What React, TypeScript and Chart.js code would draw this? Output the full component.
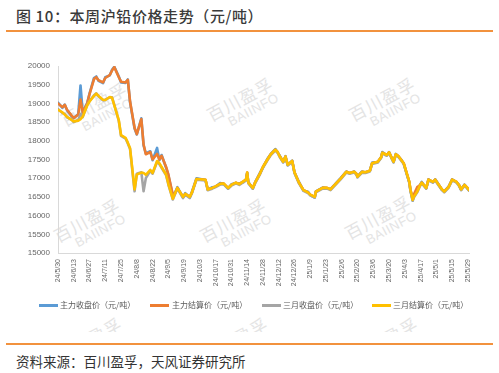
import React, { useEffect, useRef } from "react";
import { Chart, registerables } from "chart.js";

Chart.register(...registerables);

// ---- data ----
const dates = [
  "24/5/30", "24/6/3", "24/6/5", "24/6/7", "24/6/11", "24/6/13", "24/6/17", "24/6/19", "24/6/21", "24/6/25",
  "24/6/27", "24/7/1", "24/7/3", "24/7/5", "24/7/9", "24/7/11", "24/7/15", "24/7/17", "24/7/19", "24/7/23",
  "24/7/25", "24/7/29", "24/7/31", "24/8/2", "24/8/6", "24/8/8", "24/8/12", "24/8/14", "24/8/16", "24/8/20",
  "24/8/22", "24/8/26", "24/8/28", "24/8/30", "24/9/3", "24/9/5", "24/9/9", "24/9/11", "24/9/13", "24/9/18",
  "24/9/20", "24/9/24", "24/9/26", "24/9/30", "24/10/8", "24/10/10", "24/10/14", "24/10/17", "24/10/21", "24/10/24",
  "24/10/28", "24/10/31", "24/11/4", "24/11/7", "24/11/11", "24/11/13", "24/11/14", "24/11/15", "24/11/19", "24/11/21",
  "24/11/25", "24/11/28", "24/12/2", "24/12/5", "24/12/9", "24/12/11", "24/12/13", "24/12/16", "24/12/18", "24/12/20",
  "24/12/24", "24/12/26", "24/12/30", "25/1/3", "25/1/7", "25/1/9", "25/1/13", "25/1/14", "25/1/20", "25/1/24",
  "25/1/27", "25/2/5", "25/2/10", "25/2/13", "25/2/17", "25/2/19", "25/2/20", "25/2/24", "25/2/27", "25/3/3",
  "25/3/5", "25/3/10", "25/3/13", "25/3/14", "25/3/18", "25/3/20", "25/3/24", "25/3/26", "25/3/28", "25/3/31",
  "25/4/2", "25/4/7", "25/4/8", "25/4/10", "25/4/11", "25/4/14", "25/4/16", "25/4/18", "25/4/22", "25/4/24",
  "25/4/28", "25/4/30", "25/5/6", "25/5/8", "25/5/12", "25/5/15", "25/5/19", "25/5/21", "25/5/23", "25/5/26",
  "25/5/28", "25/5/30",
];

const mainClose = [
  19020, 18880, 18970, 18820, 18660, 18600, 18720, 19480, 18740, 19020,
  19260, 19680, 19720, 19600, 19540, 19700, 19750, 19900, 19980, 19720,
  19560, 19550, 19640, 19030, 18330, 18170, 18600, 17880, 17660, 17720,
  17480, 17810, 17480, 17620, 17280, 17080, 16530, 16620, 16760, 16490,
  16600, 16480, 16640, 17000, 16950, 16690, 16760, 16770, 16870, 16850,
  16720, 16840, 16870, 16860, 16900, 16980, 17140, 16900, 16720, 16890,
  17120, 17290, 17520, 17650, 17780, 17690, 17600, 17430, 17590, 17350,
  17470, 17150, 16900, 16670, 16640, 16550, 16480, 16650, 16750, 16730,
  16710, 17000, 17180, 17130, 17180, 17110, 17050, 17180, 17150, 17210,
  17420, 17430, 17570, 17700, 17610, 17700, 17430, 17650, 17590, 17490,
  17390, 16880, 16660, 16400, 16520, 16660, 16790, 16900, 16730, 16970,
  16890, 16970, 16690, 16650, 16780, 16970, 16890, 16830, 16690, 16830,
  16750, 16680,
];

const mainSettle = [
  19000, 18900, 18960, 18830, 18680, 18610, 18700, 19100, 18760, 19000,
  19250, 19650, 19700, 19620, 19560, 19680, 19760, 19880, 19970, 19700,
  19580, 19560, 19630, 19050, 18350, 18180, 18580, 17900, 17640, 17700,
  17500, 17650, 17500, 17600, 17300, 17100, 16550, 16600, 16740, 16500,
  16580, 16500, 16620, 16980, 16960, 16700, 16740, 16780, 16850, 16860,
  16740, 16820, 16880, 16840, 16920, 16960, 17150, 16880, 16740, 16880,
  17100, 17300, 17500, 17640, 17760, 17700, 17580, 17440, 17580, 17360,
  17460, 17160, 16880, 16680, 16620, 16560, 16500, 16640, 16740, 16740,
  16700, 16990, 17170, 17140, 17170, 17120, 17040, 17170, 17160, 17200,
  17400, 17440, 17560, 17680, 17620, 17690, 17440, 17640, 17600, 17480,
  17400, 16900, 16690, 16460, 16560, 16760, 16800, 16880, 16740, 16960,
  16900, 16960, 16700, 16640, 16770, 16960, 16900, 16820, 16700, 16820,
  16760, 16690,
];

const threeMonthClose = [
  18850, 18740, 18720, 18630, 18570, 18500, 18560, 18720, 18640, 18960,
  19060, 19220, 19270, 19190, 19080, 19100, 19160, 19160, 18960, 18530,
  18130, 18060, 17930, 17780, 16650, 17120, 17160, 16650, 17000, 17200,
  17120, 17440, 17380, 17280, 17080, 16830, 16430, 16580, 16720, 16470,
  16560, 16470, 16600, 16960, 16940, 16680, 16720, 16760, 16830, 16840,
  16720, 16800, 16860, 16820, 16900, 16940, 17120, 16860, 16720, 16860,
  17080, 17280, 17480, 17620, 17740, 17680, 17560, 17420, 17560, 17340,
  17440, 17140, 16860, 16660, 16600, 16540, 16480, 16620, 16720, 16720,
  16680, 16970, 17150, 17120, 17150, 17100, 17020, 17150, 17140, 17180,
  17380, 17420, 17540, 17660, 17600, 17670, 17420, 17620, 17580, 17460,
  17380, 16880, 16670, 16400, 16480, 16620, 16760, 16860, 16720, 16940,
  16880, 16940, 16680, 16620, 16750, 16940, 16880, 16800, 16680, 16800,
  16740, 16670,
];

const threeMonthSettle = [
  18830, 18760, 18700, 18640, 18560, 18520, 18540, 18580, 18650, 18950,
  19050, 19200, 19260, 19200, 19100, 19090, 19170, 19150, 18950, 18550,
  18150, 18080, 17950, 17800, 16700, 17100, 17150, 17140, 17090, 17220,
  17140, 17460, 17400, 17300, 17100, 16850, 16450, 16600, 16740, 16500,
  16580, 16500, 16620, 16980, 16960, 16700, 16740, 16780, 16850, 16860,
  16740, 16820, 16880, 16840, 16920, 16960, 17150, 16880, 16740, 16880,
  17100, 17300, 17500, 17640, 17760, 17700, 17580, 17440, 17580, 17360,
  17460, 17160, 16880, 16680, 16620, 16560, 16500, 16640, 16740, 16740,
  16700, 16990, 17170, 17140, 17170, 17120, 17040, 17170, 17160, 17200,
  17400, 17440, 17560, 17680, 17620, 17690, 17440, 17640, 17600, 17480,
  17400, 16900, 16690, 16420, 16500, 16640, 16780, 16880, 16740, 16960,
  16900, 16960, 16700, 16640, 16770, 16960, 16900, 16820, 16700, 16820,
  16760, 16690,
];

const xTickLabels = [
  "24/5/30", "24/6/13", "24/6/27", "24/7/11", "24/7/25", "24/8/8", "24/8/22", "24/9/5", "24/9/19",
  "24/10/3", "24/10/17", "24/10/31", "24/11/14", "24/11/28", "24/12/12", "24/12/26", "25/1/9",
  "25/1/23", "25/2/6", "25/2/20", "25/3/6", "25/3/20", "25/4/3", "25/4/17", "25/5/1", "25/5/15", "25/5/29",
];

const seriesNames = ["主力收盘价（元/吨）", "主力结算价（元/吨）", "三月收盘价（元/吨）", "三月结算价（元/吨）"];
const seriesColors = ["#5B9BD5", "#ED7D31", "#A5A5A5", "#FFC000"];
const yMin = 15000;
const yMax = 20000;
const yStep = 500;
const axisStart = "24/5/30";
const axisEnd = "25/5/30";

const titleText = "图 10：本周沪铅价格走势（元/吨）";
const sourceText = "资料来源：百川盈孚，天风证券研究所";
const watermarkCn = "百川盈孚";
const watermarkEn = "BAIINFO";

// ---- helpers ----
function toUTC(s: string) {
  const [y, m, d] = s.split("/").map(Number);
  return Date.UTC(2000 + y, m - 1, d);
}
function dayOf(s: string) {
  return Math.round((toUTC(s) - toUTC(axisStart)) / 86400000);
}

const tickLabelByDay = new Map<number, string>(xTickLabels.map((l) => [dayOf(l), l]));

function Watermark({ cx, cy }: { cx: number; cy: number }) {
  return (
    <div
      style={{
        position: "absolute",
        left: cx,
        top: cy,
        transform: "translate(-50%, -50%) rotate(-28deg)",
        color: "#E4E4E4",
        textAlign: "center",
        lineHeight: 1.05,
        whiteSpace: "nowrap",
        pointerEvents: "none",
      }}
    >
      <div style={{ fontSize: 17, fontFamily: "'Noto Sans CJK SC', sans-serif", letterSpacing: 1 }}>{watermarkCn}</div>
      <div style={{ fontSize: 13, fontFamily: "'Liberation Sans', Arial, sans-serif", marginLeft: 14, letterSpacing: 0.5 }}>
        {watermarkEn}
      </div>
    </div>
  );
}

export default function App() {
  const ref = useRef<HTMLCanvasElement | null>(null);

  useEffect(() => {
    if (!ref.current) return;
    const series = [mainClose, mainSettle, threeMonthClose, threeMonthSettle];
    const drawOrder = [4, 3, 2, 1];
    const chart = new Chart(ref.current, {
      type: "line",
      data: {
        datasets: series.map((vals, i) => ({
          label: seriesNames[i],
          data: vals.map((v, j) => ({ x: dayOf(dates[j]), y: v })),
          borderColor: seriesColors[i],
          backgroundColor: seriesColors[i],
          borderWidth: 2.6,
          pointRadius: 0,
          pointHoverRadius: 0,
          tension: 0,
          borderJoinStyle: "round" as const,
          borderCapStyle: "round" as const,
          order: drawOrder[i],
        })),
      },
      options: {
        animation: false,
        responsive: false,
        devicePixelRatio: 1,
        parsing: false as any,
        layout: { padding: { top: 26, left: 0, right: 30, bottom: 0 } },
        plugins: {
          legend: { display: false },
          tooltip: { enabled: false },
          title: { display: false },
        },
        scales: {
          x: {
            type: "linear",
            min: 0,
            max: dayOf(axisEnd),
            grid: { display: false, drawTicks: false },
            border: { display: true, color: "#D9D9D9", width: 1 },
            afterBuildTicks: (scale: any) => {
              scale.ticks = xTickLabels.map((l) => ({ value: dayOf(l) }));
            },
            afterFit: (scale: any) => {
              scale.height = 47;
            },
            ticks: {
              autoSkip: false,
              minRotation: 90,
              maxRotation: 90,
              padding: 6,
              color: "#666666",
              font: { size: 7, family: "'Liberation Sans', Arial, sans-serif" },
              callback: (v: any) => tickLabelByDay.get(Number(v)) ?? "",
            },
          },
          y: {
            type: "linear",
            min: yMin,
            max: yMax,
            grid: { display: false, drawTicks: false },
            border: { display: true, color: "#D9D9D9", width: 1 },
            afterFit: (scale: any) => {
              scale.width = 58;
            },
            ticks: {
              stepSize: yStep,
              padding: 8,
              color: "#666666",
              font: { size: 8, family: "'Liberation Sans', Arial, sans-serif" },
              callback: (v: any) => String(v),
            },
          },
        },
      } as any,
    });
    return () => chart.destroy();
  }, []);

  const legendPos = [
    { lineX: 39, textX: 60 },
    { lineX: 150, textX: 172 },
    { lineX: 262, textX: 283 },
    { lineX: 372, textX: 393 },
  ];

  return (
    <div
      style={{
        position: "fixed",
        left: 0,
        top: 0,
        width: 499,
        height: 373,
        background: "#ffffff",
        overflow: "hidden",
        fontFamily: "'Noto Sans CJK SC', 'Noto Sans', sans-serif",
      }}
    >
      {/* watermarks */}
      <div style={{ position: "absolute", left: 0, top: 0, width: 499, height: 332, overflow: "hidden" }}>
        <Watermark cx={97} cy={110} />
        <Watermark cx={243} cy={105} />
        <Watermark cx={385} cy={105} />
        <Watermark cx={90} cy={226} />
        <Watermark cx={236} cy={226} />
        <Watermark cx={381} cy={223} />
        <Watermark cx={92} cy={345} />
        <Watermark cx={238} cy={345} />
        <Watermark cx={388} cy={345} />
      </div>

      {/* title */}
      <div
        style={{
          position: "absolute",
          left: 16,
          top: 5,
          fontSize: 15,
          lineHeight: "22px",
          color: "#3A3A3A",
          fontWeight: 500,
          whiteSpace: "nowrap",
          letterSpacing: 0.6,
        }}
      >
        {titleText}
      </div>
      <div style={{ position: "absolute", left: 6, top: 30, width: 487, height: 2, background: "#F2923E" }} />

      {/* chart */}
      <canvas
        ref={ref}
        width={499}
        height={260}
        style={{ position: "absolute", left: 0, top: 40, width: 499, height: 260 }}
      />

      {/* legend */}
      {seriesNames.map((name, i) => (
        <React.Fragment key={name}>
          <div
            style={{
              position: "absolute",
              left: legendPos[i].lineX,
              top: 304,
              width: 19,
              height: 2.5,
              background: seriesColors[i],
            }}
          />
          <div
            style={{
              position: "absolute",
              left: legendPos[i].textX,
              top: 299,
              fontSize: 8,
              lineHeight: "12px",
              color: "#595959",
              whiteSpace: "nowrap",
            }}
          >
            {name}
          </div>
        </React.Fragment>
      ))}

      {/* bottom rule + source */}
      <div style={{ position: "absolute", left: 6, top: 343, width: 487, height: 2, background: "#F2923E" }} />
      <div
        style={{
          position: "absolute",
          left: 16,
          top: 351,
          fontSize: 13.5,
          lineHeight: "20px",
          color: "#333333",
          whiteSpace: "nowrap",
        }}
      >
        {sourceText}
      </div>
    </div>
  );
}
